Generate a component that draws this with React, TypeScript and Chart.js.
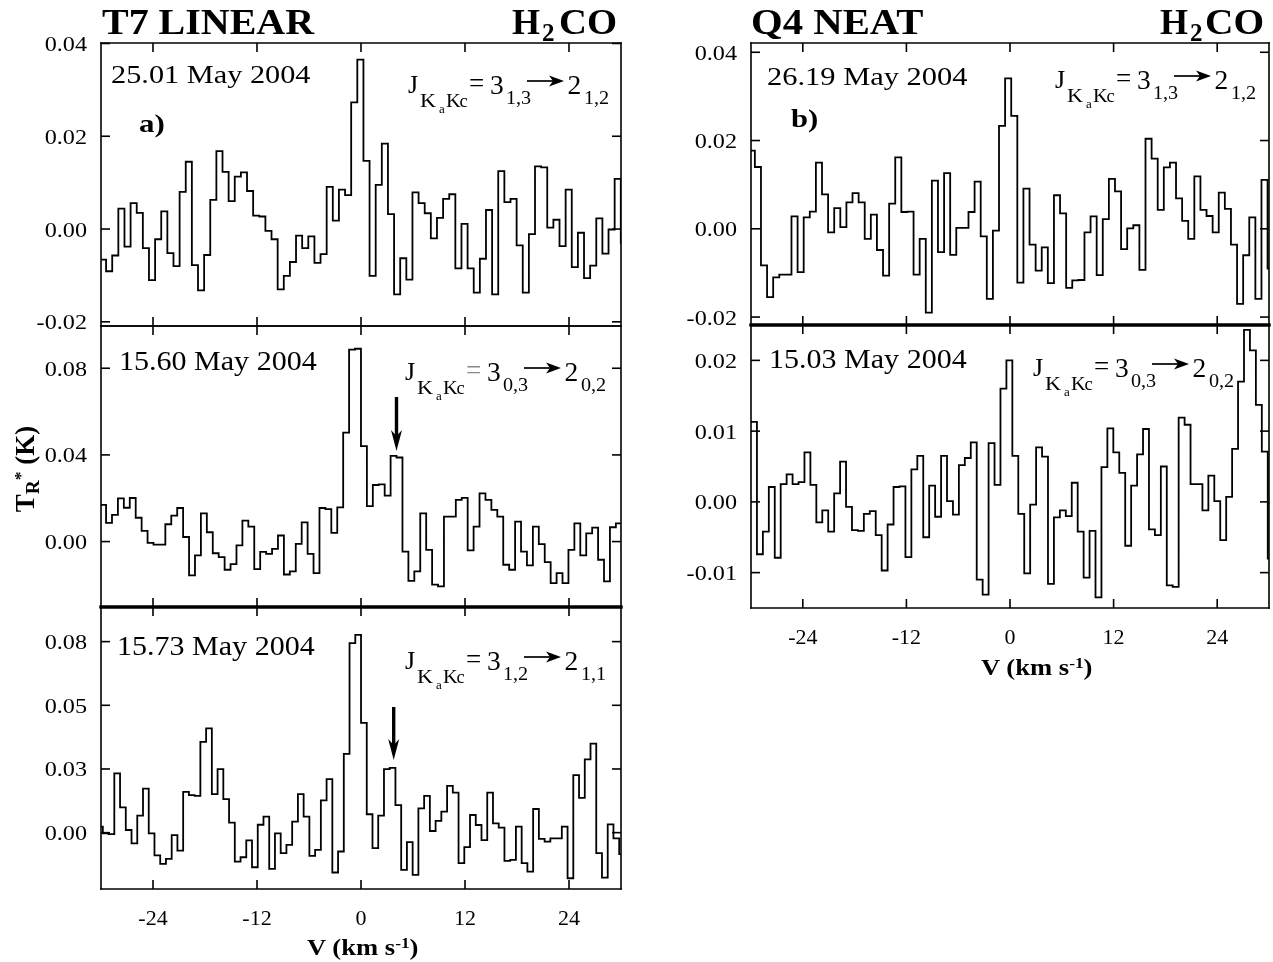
import React, { useEffect, useLayoutEffect, useRef, useState } from 'react';
import { Chart, registerables } from 'chart.js';

Chart.register(...registerables);

const PAGE_W = 1273;
const PAGE_H = 962;
const SERIF = '"Liberation Serif", "Times New Roman", Times, serif';

// ------------------------------------------------------------------ data
const velocityTicks = [-24, -12, 0, 12, 24];
const velocityTickLabels = ['-24', '-12', '0', '12', '24'];

// T7 LINEAR, 3(1,3)-2(1,2), 25.01 May 2004  (T_R* in K, one value per channel)
const t7Line313Values = [
  -0.0066, -0.0091, -0.0057, 0.0044, -0.0038, 0.0056, 0.0035, -0.0041, -0.011, -0.0022,
  0.0038, -0.0052, -0.008, 0.008, 0.0145, -0.0078, -0.0132, -0.0056, 0.0063, 0.0168,
  0.0123, 0.006, 0.0113, 0.0122, 0.0082, 0.0029, 0.0027, -0.0004, -0.0022, -0.013,
  -0.0101, -0.0071, -0.0014, -0.0041, -0.0016, -0.0073, -0.0054, 0.0091, 0.0018, 0.0085,
  0.0073, 0.0273, 0.0365, 0.0147, -0.0101, 0.0095, 0.0184, 0.0032, -0.0141, -0.0063,
  -0.0109, 0.0079, 0.0056, 0.0034, -0.002, 0.0024, 0.0065, 0.0075, -0.0085, 0.0011,
  -0.0085, -0.0137, -0.0064, 0.0041, -0.0141, 0.0125, 0.0058, 0.0065, -0.0035, -0.0137,
  -0.0011, 0.0135, 0.0133, 0.0003, 0.002, -0.0037, 0.0085, -0.0082, -0.0008, -0.0106,
  -0.0079, 0.0023, -0.0053, -0.0001, 0.0108, -0.003,
];
const t7Line313YTicks = [-0.02, 0, 0.02, 0.04];
const t7Line313YTickLabels = ['-0.02', '0.00', '0.02', '0.04'];

// T7 LINEAR, 3(0,3)-2(0,2), 15.60 May 2004
const t7Line303Values = [
  0.0169, 0.0086, 0.0123, 0.0199, 0.0156, 0.0201, 0.011, 0.0049, -0.0006, -0.0014,
  -0.0014, 0.008, 0.012, 0.0155, 0.0021, -0.0156, -0.0064, 0.013, 0.0043, -0.0054,
  -0.0072, -0.013, -0.0104, -0.0018, 0.0097, 0.0069, -0.0127, -0.0048, -0.0057, -0.0034,
  0.0028, -0.0152, -0.0138, -0.0011, 0.0089, -0.0057, -0.0146, 0.0155, 0.015, 0.004,
  0.0158, 0.0503, 0.0886, 0.089,
  0.0441, 0.0164, 0.0261, 0.0264, 0.0212, 0.0396, 0.0388, -0.0046, -0.0181, -0.0138,
  0.013, -0.0038, -0.0199, -0.0207, 0.0115, 0.0115, 0.0192, 0.0202, -0.0041, 0.0069,
  0.0222, 0.0192, 0.0146, 0.0115, -0.0107, -0.013, 0.0092, -0.0046, -0.011, 0.0069,
  -0.0012, -0.0095, -0.0192, -0.0146, -0.0192, -0.0038, 0.0084, -0.0064, 0.0038, 0.0064,
  -0.0084, -0.0184, 0.0066, 0.0084, -0.005,
];
const t7Line303YTicks = [0, 0.04, 0.08];
const t7Line303YTickLabels = ['0.00', '0.04', '0.08'];

// T7 LINEAR, 3(1,2)-2(1,1), 15.73 May 2004
const t7Line312Values = [
  0.0025, -0.0003, -0.0006, 0.0248, 0.0106, 0.0011, -0.0045, 0.0071, 0.0184, -0.0003,
  -0.0095, -0.0131, -0.011, -0.001, -0.0075, 0.0171, 0.0157, 0.0154, 0.038, 0.0437,
  0.0161, 0.0266, 0.014, 0.0042, -0.0121, -0.0103, -0.0032, -0.0145, 0.0033, 0.0067,
  -0.0152, -0.0003, -0.0086, -0.0051, 0.0046, 0.0161, 0.0067, -0.0097, -0.0072, 0.0135,
  0.0224, -0.0167, -0.0079, 0.033, 0.0794, 0.0828,
  0.046,
  0.0077, -0.0065, 0.0071, 0.0266, 0.0271, 0.0115, -0.0156, -0.004, -0.0177, 0.0102,
  0.0154, 0.0007, 0.0049, 0.0088, 0.0196, 0.0168, -0.0128, -0.0061, 0.0074, 0.0032,
  -0.0031, 0.0168, 0.0039, 0.0021, -0.0118, -0.0114, 0.0025, -0.0128, -0.0163, 0.0099,
  -0.0026, -0.0038, -0.0024, -0.0024, 0.0025, -0.0191, 0.0241, 0.0146, 0.0307, 0.0373,
  -0.0086, -0.0188, 0.0035, -0.0024, -0.009,
];
const t7Line312YTicks = [0, 0.08 / 3, 0.16 / 3, 0.08];
const t7Line312YTickLabels = ['0.00', '0.03', '0.05', '0.08'];

// Q4 NEAT, 3(1,3)-2(1,2), 26.19 May 2004
const q4Line313Values = [
  0.0177, 0.014, -0.0083, -0.0155, -0.011, -0.0104, -0.0104, 0.0028, -0.0098, 0.0026,
  0.0039, 0.015, 0.0078, -0.0008, 0.0047, 0.0004, 0.006, 0.0081, 0.006, -0.0023,
  0.0032, -0.0048, -0.0106, 0.0057, 0.0162, 0.0038, 0.0039, -0.0104, -0.0023, -0.019,
  0.0109, -0.0053, 0.0126, -0.0059, 0.0002, 0.0002, 0.0038, 0.0107, -0.0017, -0.0159,
  -0.0004, 0.0233, 0.0341,
  0.0256, -0.0122, 0.0091, -0.0036, -0.0095, -0.0042, -0.0123, 0.0076, 0.0035, -0.0134,
  -0.0117, -0.0116, -0.0008, 0.0028, -0.0105, 0.0022, 0.0113, 0.0085, -0.0046, 0.0001,
  0.0008, -0.0093, 0.0204, 0.0159, 0.0043, 0.0139, 0.015, 0.0069, 0.0018, -0.0023,
  0.0119, 0.0043, 0.0029, -0.0008, 0.0082, 0.0045, -0.0036, -0.017, -0.006, 0.0026,
  -0.0159, 0.0111, -0.009,
];
const q4Line313YTicks = [-0.02, 0, 0.02, 0.04];
const q4Line313YTickLabels = ['-0.02', '0.00', '0.02', '0.04'];

// Q4 NEAT, 3(0,3)-2(0,2), 15.03 May 2004
const q4Line303Values = [
  0.0113, -0.0074, -0.0042, 0.0021, -0.0079, 0.0025, 0.0039, 0.0025, 0.0028, 0.007,
  0.0024, -0.0029, -0.0012, -0.0042, 0.0012, 0.0057, -0.0007, -0.004, -0.0041, -0.0017,
  -0.0013, -0.0047, -0.0097, -0.0032, 0.0021, 0.0022, -0.0078, 0.0046, 0.0065, -0.005,
  0.0023, -0.0021, 0.0065, 0.0001, -0.0018, 0.0052, 0.0062, 0.0084, -0.011, -0.0131,
  0.0083, 0.0024, 0.016, 0.02,
  0.0065, -0.0017, -0.0101, -0.0004, 0.0077, 0.0064, -0.0116, -0.0022, -0.0012, -0.002,
  0.0027, -0.0042, -0.0107, -0.0041, -0.0135, 0.0049, 0.0104, 0.007, 0.0041, -0.0062,
  0.0023, 0.0067, 0.0103, -0.0039, -0.0047, 0.005, -0.0118, -0.012, 0.0119, 0.0109,
  0.0025, 0.0025, -0.0012, 0.0037, 0.0001, -0.0054, 0.0007, 0.0075, 0.017, 0.0243,
  0.0214, 0.0137, 0.0071, -0.008,
];
const q4Line303YTicks = [-0.01, 0, 0.01, 0.02];
const q4Line303YTickLabels = ['-0.01', '0.00', '0.01', '0.02'];

// ------------------------------------------------------------------ layout / styles
type Area = { left: number; top: number; right: number; bottom: number };
type Frame = { top: number; bottom: number; left: number; right: number };
type Panel = {
  id: string;
  values: number[];
  vStart: number;
  dv: number;
  yMin: number;
  yMax: number;
  yTicks: number[];
  yTickLabels: string[];
  area: Area;
  frame: Frame;
  xLabels: boolean;
};

const panels: Panel[] = [
  {
    id: 't7-313', values: t7Line313Values, vStart: -30.12, dv: 0.707,
    yMin: -0.0209, yMax: 0.0401, yTicks: t7Line313YTicks, yTickLabels: t7Line313YTickLabels,
    area: { left: 101, top: 43, right: 621, bottom: 326 },
    frame: { top: 1.6, bottom: 1.6, left: 1.6, right: 1.6 }, xLabels: false,
  },
  {
    id: 't7-303', values: t7Line303Values, vStart: -30.1, dv: 0.684,
    yMin: -0.0302, yMax: 0.0995, yTicks: t7Line303YTicks, yTickLabels: t7Line303YTickLabels,
    area: { left: 101, top: 326, right: 621, bottom: 607 },
    frame: { top: 1.6, bottom: 3, left: 1.6, right: 1.6 }, xLabels: false,
  },
  {
    id: 't7-312', values: t7Line312Values, vStart: -30.45, dv: 0.662,
    yMin: -0.0236, yMax: 0.0945, yTicks: t7Line312YTicks, yTickLabels: t7Line312YTickLabels,
    area: { left: 101, top: 607, right: 621, bottom: 889 },
    frame: { top: 3, bottom: 1.6, left: 1.6, right: 1.6 }, xLabels: true,
  },
  {
    id: 'q4-313', values: q4Line313Values, vStart: -30.26, dv: 0.707,
    yMin: -0.0218, yMax: 0.0421, yTicks: q4Line313YTicks, yTickLabels: q4Line313YTickLabels,
    area: { left: 751, top: 43, right: 1269, bottom: 325 },
    frame: { top: 1.6, bottom: 3, left: 1.6, right: 1.6 }, xLabels: false,
  },
  {
    id: 'q4-303', values: q4Line303Values, vStart: -30.0, dv: 0.688,
    yMin: -0.015, yMax: 0.025, yTicks: q4Line303YTicks, yTickLabels: q4Line303YTickLabels,
    area: { left: 751, top: 325, right: 1269, bottom: 608 },
    frame: { top: 3, bottom: 1.6, left: 1.6, right: 1.6 }, xLabels: true,
  },
];

const TICK_LEN = 9;
const Y_TICK_FONT = 22;
const X_TICK_FONT = 22;
const Y_LABEL_SX = 1.1;

function seg(ctx: CanvasRenderingContext2D, x1: number, y1: number, x2: number, y2: number, lw: number) {
  ctx.lineWidth = lw;
  ctx.beginPath();
  ctx.moveTo(x1, y1);
  ctx.lineTo(x2, y2);
  ctx.stroke();
}

function framePlugin(p: Panel) {
  return {
    id: 'frame-' + p.id,
    afterDraw(chart: any) {
      const ctx: CanvasRenderingContext2D = chart.ctx;
      const { left, right, top, bottom } = chart.chartArea;
      const xs = chart.scales.x;
      const ys = chart.scales.y;
      ctx.save();
      ctx.strokeStyle = '#000';
      ctx.fillStyle = '#000';
      ctx.lineCap = 'square';
      seg(ctx, left, top, right, top, p.frame.top);
      seg(ctx, left, bottom, right, bottom, p.frame.bottom);
      seg(ctx, left, top, left, bottom, p.frame.left);
      seg(ctx, right, top, right, bottom, p.frame.right);
      ctx.lineCap = 'butt';
      velocityTicks.forEach((t) => {
        const px = xs.getPixelForValue(t);
        seg(ctx, px, top, px, top + TICK_LEN, 1.6);
        seg(ctx, px, bottom, px, bottom - TICK_LEN, 1.6);
      });
      p.yTicks.forEach((t) => {
        const py = ys.getPixelForValue(t);
        seg(ctx, left, py, left + TICK_LEN, py, 1.6);
        seg(ctx, right, py, right - TICK_LEN, py, 1.6);
      });
      ctx.textBaseline = 'alphabetic';
      ctx.textAlign = 'right';
      ctx.font = `${Y_TICK_FONT}px ${SERIF}`;
      p.yTicks.forEach((t, i) => {
        const py = ys.getPixelForValue(t);
        ctx.save();
        ctx.translate(left - 14, py + 7.5);
        ctx.scale(Y_LABEL_SX, 1);
        ctx.fillText(p.yTickLabels[i], 0, 0);
        ctx.restore();
      });
      if (p.xLabels) {
        ctx.font = `${X_TICK_FONT}px ${SERIF}`;
        ctx.textAlign = 'center';
        velocityTicks.forEach((t, i) => {
          const px = xs.getPixelForValue(t);
          ctx.fillText(velocityTickLabels[i], px, bottom + 36);
        });
      }
      ctx.restore();
    },
  };
}

function makeConfig(p: Panel): any {
  const pts: { x: number; y: number }[] = [{ x: p.vStart, y: p.values[0] }];
  p.values.forEach((v, i) => pts.push({ x: p.vStart + (i + 0.5) * p.dv, y: v }));
  pts.push({ x: p.vStart + p.values.length * p.dv, y: p.values[p.values.length - 1] });
  return {
    type: 'line',
    data: {
      datasets: [
        {
          data: pts,
          borderColor: '#000',
          borderWidth: 1.8,
          pointRadius: 0,
          stepped: 'middle',
          fill: false,
          clip: 0,
        },
      ],
    },
    options: {
      animation: false,
      responsive: false,
      maintainAspectRatio: false,
      devicePixelRatio: 1,
      events: [],
      layout: {
        padding: {
          left: p.area.left,
          top: p.area.top,
          right: PAGE_W - p.area.right,
          bottom: PAGE_H - p.area.bottom,
        },
      },
      plugins: { legend: { display: false }, tooltip: { enabled: false }, title: { display: false } },
      scales: {
        x: { type: 'linear', min: -30, max: 30, display: false },
        y: { type: 'linear', min: p.yMin, max: p.yMax, display: false },
      },
    },
    plugins: [framePlugin(p)],
  };
}

// ------------------------------------------------------------------ text helpers
function Txt({ x, y, size, bold = false, w, sx = 1, color = '#000', children }: any) {
  const ref = useRef<HTMLSpanElement>(null);
  const [scale, setScale] = useState<number>(sx);
  useLayoutEffect(() => {
    if (w && ref.current) {
      const nat = ref.current.offsetWidth;
      if (nat > 0) setScale(w / nat);
    }
  }, [w]);
  return (
    <span
      ref={ref}
      style={{
        position: 'absolute',
        left: x,
        top: y - 0.8375 * size,
        fontSize: size,
        lineHeight: 1,
        fontFamily: SERIF,
        fontWeight: bold ? 700 : 400,
        whiteSpace: 'nowrap',
        color,
        transform: `scaleX(${scale})`,
        transformOrigin: '0 0',
      }}
    >
      {children}
    </span>
  );
}

const supStyle: React.CSSProperties = { fontSize: '0.65em', position: 'relative', top: '-0.45em', verticalAlign: 'baseline' };
const subStyle: React.CSSProperties = { fontSize: '0.72em', position: 'relative', top: '0.28em', verticalAlign: 'baseline' };

function Transition({ x, y, upper, lower, eqColor = '#000' }: any) {
  return (
    <>
      <Txt x={x} y={y} size={26}>J</Txt>
      <Txt x={x + 12} y={y + 13} size={18.5} sx={1.2}>K</Txt>
      <Txt x={x + 31} y={y + 19} size={13}>a</Txt>
      <Txt x={x + 38} y={y + 13} size={18.5} sx={1.1}>K</Txt>
      <Txt x={x + 51.5} y={y + 13} size={18.5}>c</Txt>
      <Txt x={x + 61} y={y - 1} size={27} color={eqColor}>=</Txt>
      <Txt x={x + 82} y={y} size={27.5}>3</Txt>
      <Txt x={x + 97.5} y={y + 10} size={18} sx={1.12}>{upper}</Txt>
      <Txt x={x + 159.5} y={y} size={27.5}>2</Txt>
      <Txt x={x + 176} y={y + 10} size={18} sx={1.12}>{lower}</Txt>
    </>
  );
}

const transitions = [
  { x: 408, y: 94, upper: '1,3', lower: '1,2', eq: '#000' },
  { x: 405, y: 381, upper: '0,3', lower: '0,2', eq: '#8a8a8a' },
  { x: 405, y: 670, upper: '1,2', lower: '1,1', eq: '#000' },
  { x: 1055, y: 89, upper: '1,3', lower: '1,2', eq: '#000' },
  { x: 1033, y: 377, upper: '0,3', lower: '0,2', eq: '#000' },
];

const downArrows = [
  { x: 396.5, y1: 397, y2: 451 },
  { x: 393.7, y1: 707, y2: 760 },
];

export default function App() {
  const refs = useRef<(HTMLCanvasElement | null)[]>([]);

  useEffect(() => {
    const charts = panels.map((p, i) => new Chart(refs.current[i] as HTMLCanvasElement, makeConfig(p)));
    return () => charts.forEach((c) => c.destroy());
  }, []);

  return (
    <div style={{ position: 'absolute', left: 0, top: 0, width: PAGE_W, height: PAGE_H, background: '#fff', overflow: 'hidden' }}>
      {panels.map((p, i) => (
        <canvas
          key={p.id}
          ref={(el) => { refs.current[i] = el; }}
          width={PAGE_W}
          height={PAGE_H}
          style={{ position: 'absolute', left: 0, top: 0, width: PAGE_W, height: PAGE_H, pointerEvents: 'none' }}
        />
      ))}

      <svg width={PAGE_W} height={PAGE_H} style={{ position: 'absolute', left: 0, top: 0, pointerEvents: 'none' }}>
        {transitions.map((t, i) => (
          <g key={i}>
            <line x1={t.x + 119} y1={t.y - 13} x2={t.x + 148} y2={t.y - 13} stroke="#000" strokeWidth={1.7} />
            <polygon
              points={`${t.x + 156},${t.y - 13} ${t.x + 141},${t.y - 18.5} ${t.x + 145},${t.y - 13} ${t.x + 141},${t.y - 7.5}`}
              fill="#000"
            />
          </g>
        ))}
        {downArrows.map((a, i) => (
          <g key={'d' + i}>
            <line x1={a.x} y1={a.y1} x2={a.x} y2={a.y2 - 14} stroke="#000" strokeWidth={3.4} />
            <polygon points={`${a.x - 5.5},${a.y2 - 21} ${a.x},${a.y2 - 15} ${a.x + 5.5},${a.y2 - 21} ${a.x},${a.y2}`} fill="#000" />
          </g>
        ))}
      </svg>

      {/* titles */}
      <Txt x={102} y={34} size={36} bold w={212}>T7 LINEAR</Txt>
      <Txt x={512} y={34} size={36} bold>H</Txt>
      <Txt x={542} y={41} size={25} bold>2</Txt>
      <Txt x={559} y={34} size={36} bold w={58}>CO</Txt>
      <Txt x={751} y={34} size={36} bold w={172}>Q4 NEAT</Txt>
      <Txt x={1160} y={34} size={36} bold>H</Txt>
      <Txt x={1190} y={41} size={25} bold>2</Txt>
      <Txt x={1205} y={34} size={36} bold w={59}>CO</Txt>

      {/* dates */}
      <Txt x={110.5} y={83} size={25} w={200}>25.01 May 2004</Txt>
      <Txt x={119} y={371} size={27} w={198}>15.60 May 2004</Txt>
      <Txt x={117} y={656} size={27} w={198}>15.73 May 2004</Txt>
      <Txt x={767} y={85} size={25} w={201}>26.19 May 2004</Txt>
      <Txt x={769} y={369} size={27} w={198}>15.03 May 2004</Txt>

      {/* panel labels */}
      <Txt x={139} y={132} size={25} bold w={26}>a)</Txt>
      <Txt x={791} y={127} size={25} bold w={27}>b)</Txt>

      {transitions.map((t, i) => (
        <Transition key={'t' + i} x={t.x} y={t.y} upper={t.upper} lower={t.lower} eqColor={t.eq} />
      ))}

      {/* axis titles */}
      <Txt x={307} y={955} size={23} bold w={111}>
        V (km s<span style={supStyle}>-1</span>)
      </Txt>
      <Txt x={981} y={675} size={23} bold w={111}>
        V (km s<span style={supStyle}>-1</span>)
      </Txt>
      <div
        style={{
          position: 'absolute',
          left: 25,
          top: 469,
          transform: 'translate(-50%, -50%) rotate(-90deg)',
          fontFamily: SERIF,
          fontWeight: 700,
          fontSize: 27,
          lineHeight: 1,
          whiteSpace: 'nowrap',
          color: '#000',
        }}
      >
        T<span style={subStyle}>R</span>
        <span style={supStyle}>*</span> (K)
      </div>
    </div>
  );
}
